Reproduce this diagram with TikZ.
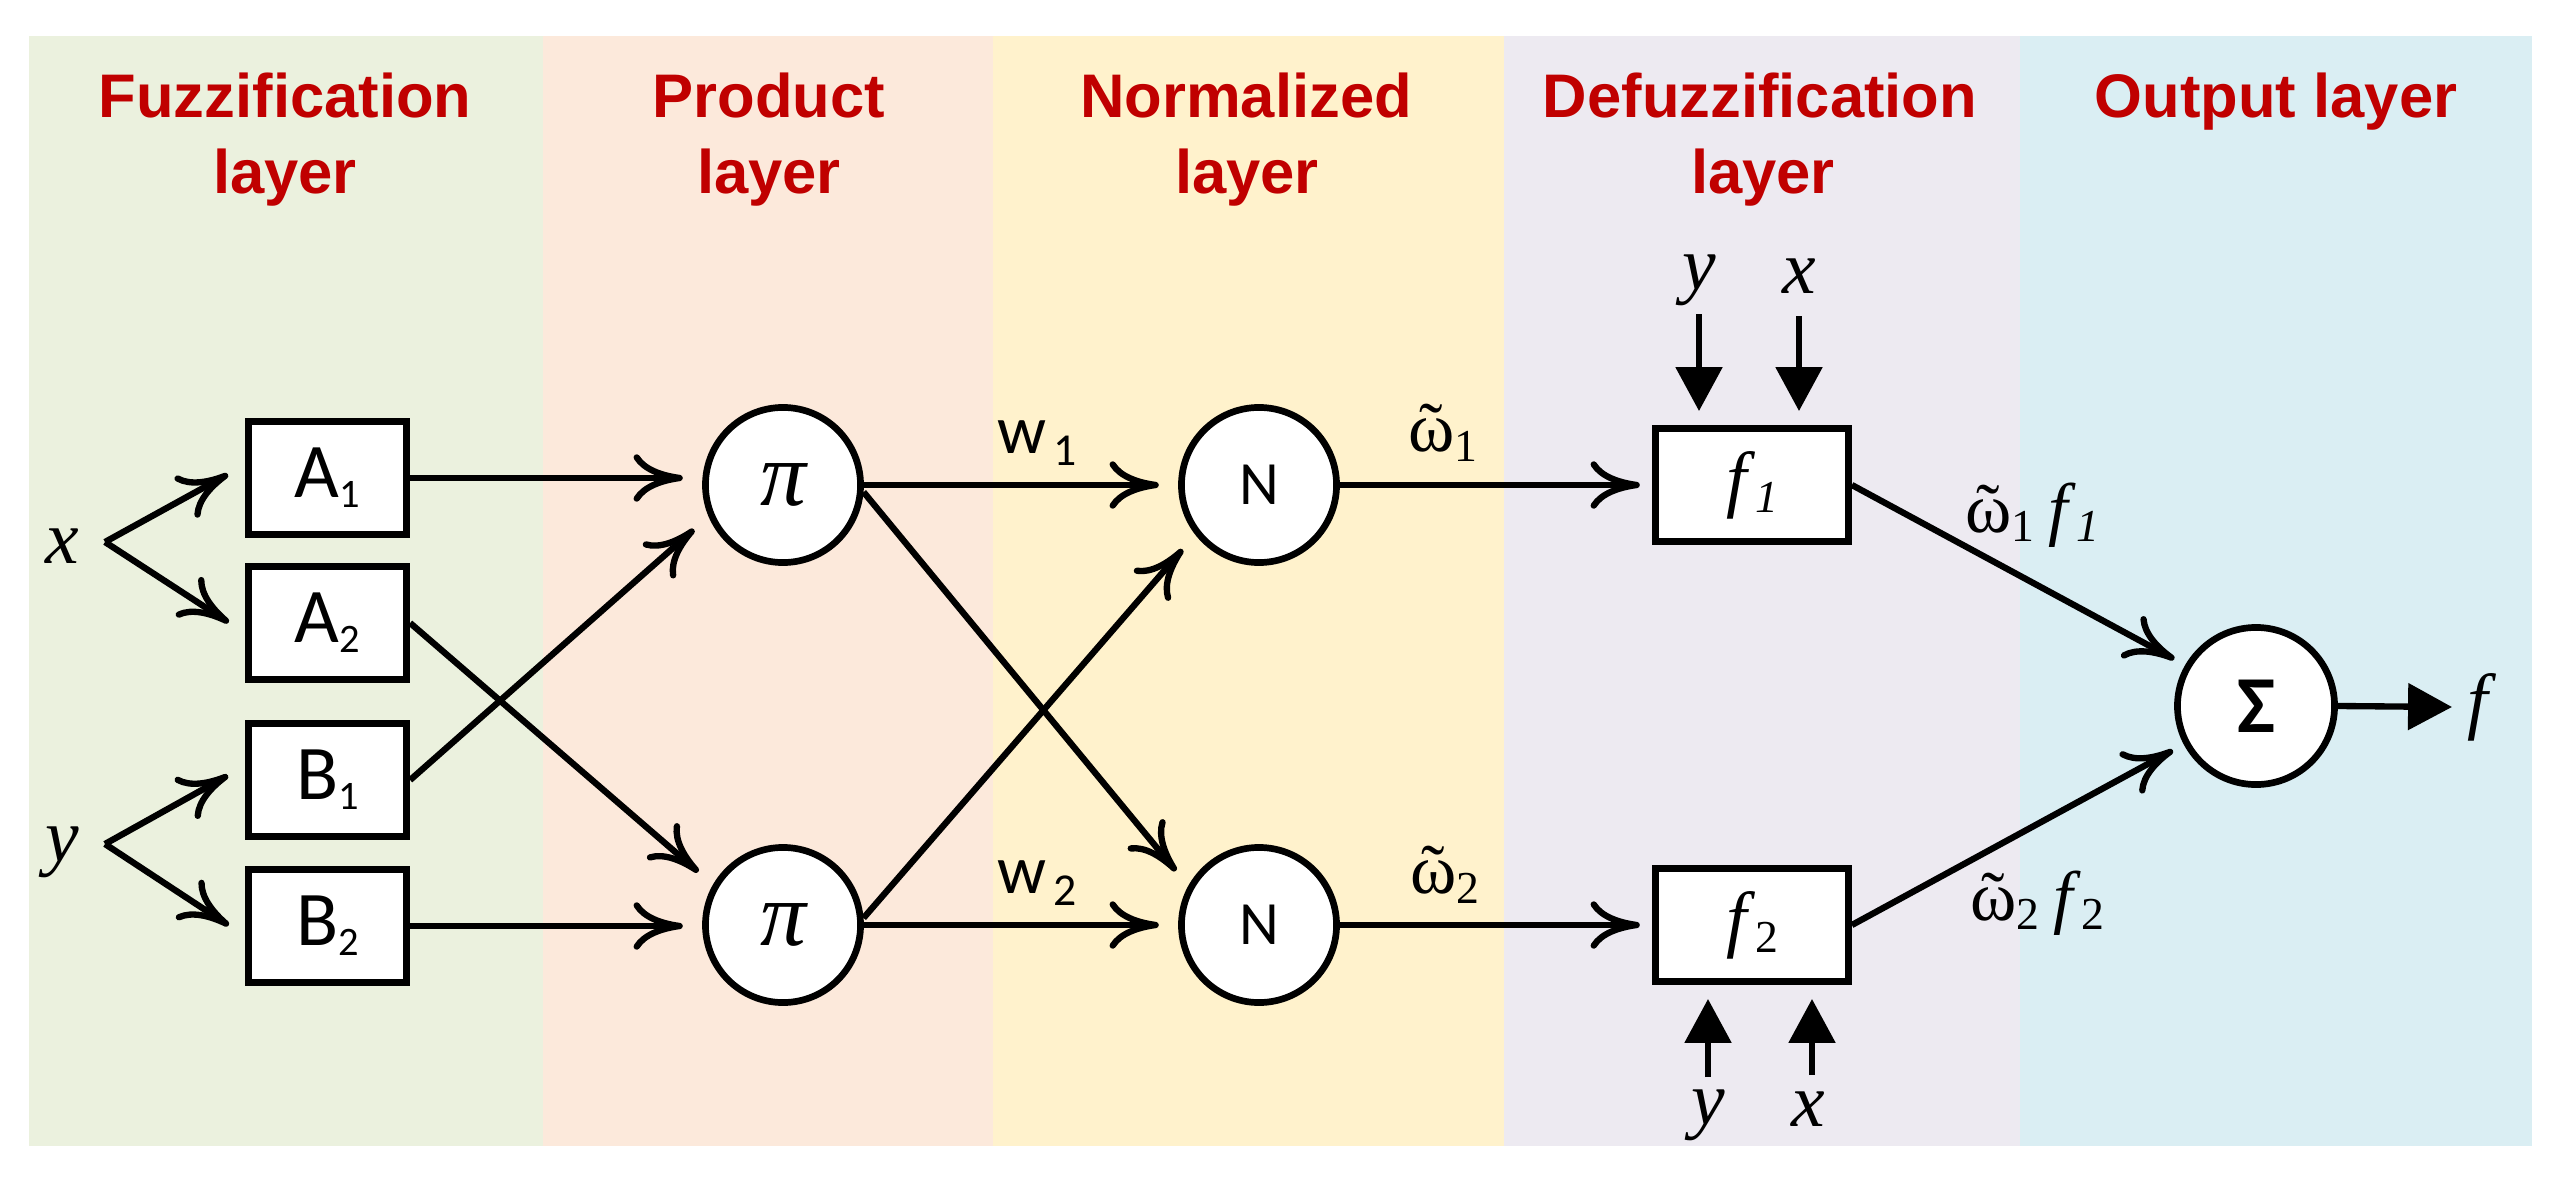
\documentclass[tikz,border=0pt]{standalone}
\usepackage{fontspec}
\setmainfont{Liberation Serif}
\newfontfamily\fcal{Carlito}
\newfontfamily\fsan{Liberation Sans}
\usetikzlibrary{arrows.meta,calc}
\definecolor{cgreen}{HTML}{EBF1DE}
\definecolor{cpeach}{HTML}{FCE9DB}
\definecolor{cyellow}{HTML}{FFF2CC}
\definecolor{cpurple}{HTML}{EDEAF1}
\definecolor{cblue}{HTML}{DAEEF3}
\definecolor{ctitle}{HTML}{C00000}
\newcommand{\subA}[2]{#1\raisebox{-2.9pt}{\fontsize{11.5}{12}\selectfont #2}}
\newcommand{\wsub}[1]{w\hspace{2pt}\raisebox{-3.4pt}{\fontsize{13}{14}\selectfont #1}}
\newcommand{\omt}{\ooalign{ω\cr\hidewidth\char"02DC\hidewidth\cr}}
\newcommand{\smallsub}[1]{\raisebox{-2.6pt}{\fontsize{13}{14}\selectfont #1}}
\begin{document}
\begin{tikzpicture}[x=0.01cm,y=-0.01cm,
  box/.style={draw, line width=1.9pt, fill=white, minimum width=1.585cm, minimum height=1.13cm, inner sep=0pt, font=\fcal\fontsize{22}{24}\selectfont},
  fbox/.style={box, minimum width=1.93cm, font=\fontsize{21}{24}\selectfont},
  circ/.style={circle, draw, line width=1.9pt, fill=white, minimum size=1.55cm, inner sep=0pt},
  lbl/.style={inner sep=0pt, font=\itshape\fontsize{21.5}{24}\selectfont},
  elbl/.style={inner sep=0pt, font=\fontsize{20}{22}\selectfont},
  ttl/.style={text=ctitle, font=\fsan\bfseries\fontsize{17.5}{21}\selectfont, anchor=base, inner sep=0pt},
  oarr/.style={line width=1.8pt, -{Computer Modern Rightarrow[length=14pt,width=13.5pt]}, shorten >=5.5pt},
  oarrs/.style={oarr, shorten >=3.5pt},
  sarr/.style={line width=1.8pt, -{Triangle[length=12.5pt,width=13pt]}}
]
\useasboundingbox (0,0) rectangle (2558,1179);
\fill[white] (0,0) rectangle (2558,1179);
% panels
\fill[cgreen]  (29,36)   rectangle (543,1146);
\fill[cpeach]  (543,36)  rectangle (993,1146);
\fill[cyellow] (993,36)  rectangle (1504,1146);
\fill[cpurple] (1504,36) rectangle (2020,1146);
\fill[cblue]   (2020,36) rectangle (2532,1146);
% titles
\node[ttl] (t1a) at (285,118) {Fuzzification};
\node[ttl] (t1b) at (285,193) {layer};
\node[ttl] (t2a) at (769,118) {Product};
\node[ttl] (t2b) at (769,193) {layer};
\node[ttl] (t3a) at (1246,118) {Normalized};
\node[ttl] (t3b) at (1247,193) {layer};
\node[ttl] (t4a) at (1760,118) {Defuzzification};
\node[ttl] (t4b) at (1763,193) {layer};
\node[ttl] (t5a) at (2276,118) {Output layer};
% nodes
\node[box] (A1) at (327.5,478) {\subA{A}{1}};
\node[box] (A2) at (327.5,623) {\subA{A}{2}};
\node[box] (B1) at (327.5,780) {\subA{B}{1}};
\node[box] (B2) at (327.5,926) {\subA{B}{2}};
\node[circ, font=\itshape\fontsize{26}{28}\selectfont] (p1) at (783,485) {π};
\node[circ, font=\itshape\fontsize{26}{28}\selectfont] (p2) at (783,925) {π};
\node[circ, font=\fcal\fontsize{17.5}{20}\selectfont] (n1) at (1259,485) {N};
\node[circ, font=\fcal\fontsize{17.5}{20}\selectfont] (n2) at (1259,925) {N};
\node[fbox] (f1) at (1752,485) {\textit{f}\smallsub{\itshape 1}};
\node[fbox] (f2) at (1752,925) {\textit{f}\smallsub{2}};
\node[circ, minimum size=1.57cm, font=\fcal\bfseries\fontsize{23}{26}\selectfont] (s) at (2256,706) {Σ};
% input labels
\node[lbl] (x) at (62,546) {x};
\node[lbl] (y) at (62,852) {y};
\coordinate (bx) at (105,542);
\coordinate (by) at (105,844);
% fuzzification arrows
\draw[oarr] (bx) -- ($(A1.west)+(0,-13)$);
\draw[oarr] (bx) -- ($(A2.west)+(0,10)$);
\draw[oarr] (by) -- ($(B1.west)+(0,-14)$);
\draw[oarr] (by) -- ($(B2.west)+(0,10)$);
% to product layer
\draw[oarr] (A1.east) -- (A1.east -| p1.west);
\draw[oarr] (B1.east) -- (p1.203);
\draw[oarr] (A2.east) -- (p2.150);
\draw[oarr] (B2.east) -- (B2.east -| p2.west);
% to normalized layer
\draw[oarr] (p1.east) -- (n1.west);
\draw[oarr] (p1.-5) -- (n2.151);
\draw[oarr] (p2.5) -- (n1.218);
\draw[oarr] (p2.east) -- (n2.west);
\node[elbl, font=\fcal\fontsize{19.5}{22}\selectfont] (w1) at (1037,443) {\wsub{1}};
\node[elbl, font=\fcal\fontsize{19.5}{22}\selectfont] (w2) at (1037,883) {\wsub{2}};
% to defuzzification
\draw[oarrs] (n1.east) -- (f1.west);
\draw[oarrs] (n2.east) -- (f2.west);
\node[elbl] (o1) at (1443,440) {\omt\smallsub{1}};
\node[elbl] (o2) at (1445,882) {\omt\smallsub{2}};
% x,y inputs to f boxes
\node[lbl] (ty) at (1699,280) {y};
\node[lbl] (tx) at (1799,276) {x};
\coordinate (tys) at (1699,314);
\coordinate (txs) at (1799,316);
\draw[sarr, shorten >=4pt] (tys) -- (tys |- f1.north);
\draw[sarr, shorten >=4pt] (txs) -- (txs |- f1.north);
\node[lbl] (by2) at (1708,1115) {y};
\node[lbl] (bx2) at (1808,1109) {x};
\coordinate (bys) at (1708,1077);
\coordinate (bxs) at (1812,1075);
\draw[sarr, shorten >=4pt] (bys) -- (bys |- f2.south);
\draw[sarr, shorten >=4pt] (bxs) -- (bxs |- f2.south);
% to output
\draw[oarrs] (f1.east) -- (s.150);
\draw[oarrs] (f2.east) -- (s.208);
\node[elbl] (of1) at (2032,515) {\omt\smallsub{1}\hspace{4pt}\textit{f}\smallsub{\itshape 1}};
\node[elbl] (of2) at (2037,903) {\omt\smallsub{2}\hspace{4pt}\textit{f}\smallsub{2}};
\node[lbl, font=\itshape\fontsize{21}{24}\selectfont] (fo) at (2478,707) {f};
\coordinate (ftip) at (2452,707);
\draw[sarr] (s.east) -- (ftip);
\end{tikzpicture}
\end{document}
